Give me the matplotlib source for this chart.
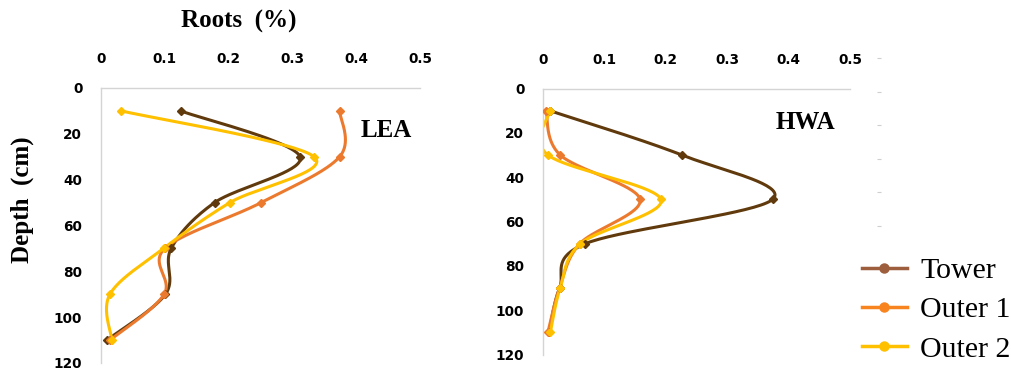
import numpy as np
import matplotlib
matplotlib.use("Agg")
import matplotlib.pyplot as plt
from matplotlib.lines import Line2D

# Sampling depths (cm) and root fractions (%) for each site
depth = [10, 30, 50, 70, 90, 110]

lea_tower = [0.125, 0.312, 0.178, 0.110, 0.101, 0.009]
lea_outer1 = [0.374, 0.374, 0.251, 0.100, 0.099, 0.014]
lea_outer2 = [0.032, 0.334, 0.202, 0.098, 0.014, 0.017]

hwa_tower = [0.011, 0.226, 0.374, 0.069, 0.027, 0.010]
hwa_outer1 = [0.005, 0.028, 0.158, 0.060, 0.027, 0.008]
hwa_outer2 = [0.011, 0.008, 0.192, 0.061, 0.028, 0.012]

series_names = ["Tower", "Outer 1", "Outer 2"]
line_colors = ["#603a0c", "#ec7a2e", "#ffc000"]
legend_colors = ["#9c5e3c", "#f7841e", "#ffc000"]

x_ticks = [0, 0.1, 0.2, 0.3, 0.4, 0.5]
x_tick_labels = ["0", "0.1", "0.2", "0.3", "0.4", "0.5"]
y_ticks = [0, 20, 40, 60, 80, 100, 120]

W, H = 1011, 371
fig = plt.figure(figsize=(W / 100, H / 100), dpi=100)

tick_font = dict(family="DejaVu Sans", weight="bold", size=9.8)
serif = "Liberation Serif"


def smooth(xs, ys, n=40):
    """Smoothed curve through the points (cubic Bezier, Catmull-Rom style)."""
    p = np.column_stack([xs, ys]).astype(float)
    ext = np.vstack([p[0], p, p[-1]])
    out = []
    t = np.linspace(0, 1, n)[:, None]
    for i in range(1, len(ext) - 2):
        p0, p1, p2, p3 = ext[i - 1], ext[i], ext[i + 1], ext[i + 2]
        c1 = p1 + (p2 - p0) / 6.0
        c2 = p2 - (p3 - p1) / 6.0
        seg = ((1 - t) ** 3) * p1 + 3 * ((1 - t) ** 2) * t * c1 \
            + 3 * (1 - t) * t ** 2 * c2 + t ** 3 * p2
        out.append(seg if i == 1 else seg[1:])
    seg = np.vstack(out)
    return seg[:, 0], seg[:, 1]


def panel(rect, data, label, label_pos):
    ax = fig.add_axes(rect)
    for vals, col in zip(data, line_colors):
        sx, sy = smooth(vals, depth)
        ax.plot(sx, sy, color=col, lw=2.2, solid_capstyle="round", zorder=2)
        ax.plot(vals, depth, ls="none", marker="D", ms=4.2, color=col, zorder=3)
    ax.set_xlim(0, 0.5)
    ax.set_ylim(120, 0)
    ax.xaxis.tick_top()
    ax.set_xticks(x_ticks)
    ax.set_xticklabels(x_tick_labels, **tick_font)
    ax.set_yticks(y_ticks)
    ax.set_yticklabels([str(v) for v in y_ticks], **tick_font)
    ax.tick_params(axis="x", length=0, pad=15.5)
    ax.tick_params(axis="y", length=0, pad=13.5)
    for s in ["right", "bottom"]:
        ax.spines[s].set_visible(False)
    for s in ["left", "top"]:
        ax.spines[s].set_color("#d4d4d4")
        ax.spines[s].set_linewidth(1.0)
    ax.patch.set_alpha(0)
    ax.text(label_pos[0], label_pos[1], label, transform=ax.transAxes,
            family=serif, weight="bold", size=18, ha="left", va="center")
    return ax


ax1 = panel([101 / W, 1 - 363 / H, 319 / W, 275 / H],
            [lea_tower, lea_outer1, lea_outer2], "LEA", (0.815, 0.845))
ax2 = panel([543 / W, 1 - 354.5 / H, 307 / W, 266 / H],
            [hwa_tower, hwa_outer1, hwa_outer2], "HWA", (0.757, 0.872))

fig.text(239 / W, 1 - 21 / H, "Roots  (%)", family=serif, weight="bold",
         size=18, ha="center", va="center")
fig.text(22 / W, 1 - 200 / H, "Depth  (cm)", family=serif, weight="bold",
         size=18, ha="center", va="center", rotation=90)

# faint leftover tick dashes to the right of the second panel
axd = fig.add_axes([879 / W, 1 - 225.7 / H, 0.0005, (225.7 - 58.3) / H])
axd.set_ylim(0, 5)
axd.set_yticks(range(6))
axd.set_yticklabels([])
axd.set_xticks([])
axd.tick_params(axis="y", direction="inout", length=3.5, width=0.8,
                color="#cfcfcf")
for s in axd.spines.values():
    s.set_visible(False)
axd.patch.set_alpha(0)

handles = [Line2D([], [], color=c, lw=2.5, marker="o", ms=6.5) for c in legend_colors]
fig.legend(handles, series_names, loc="center left",
           bbox_to_anchor=(862 / W, 1 - 310 / H), frameon=False,
           prop=dict(family=serif, size=21.5), handlelength=1.5,
           handletextpad=0.45, labelspacing=0.41, borderaxespad=0,
           borderpad=0)

fig.savefig("out.png", dpi=100, facecolor="white")
